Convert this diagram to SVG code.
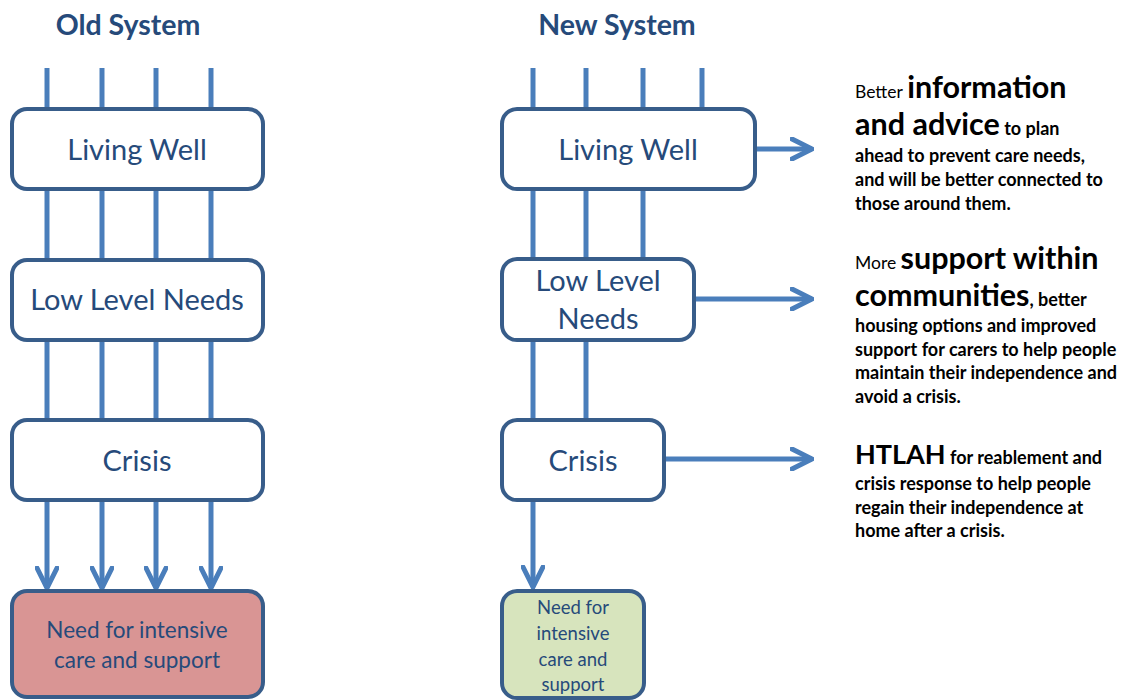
<svg xmlns="http://www.w3.org/2000/svg" width="1129" height="700" viewBox="0 0 1129 700">
<defs>
<marker id="chev" viewBox="0 0 24 24" refX="22" refY="12" markerWidth="24" markerHeight="24" markerUnits="userSpaceOnUse" orient="auto">
<path d="M2,2 L22,12 L2,22" fill="none" stroke="#4a7ebb" stroke-width="5" stroke-linecap="round" stroke-linejoin="miter"/>
</marker>
<style>
.title{font-family:Lato,"Open Sans",sans-serif;font-weight:bold;font-size:28.5px;fill:#264a7a;text-anchor:middle}
.box{fill:#fff;stroke:#385d8a;stroke-width:4}
.lbl{font-family:Lato,"Open Sans",sans-serif;font-size:29px;fill:#264a7a;text-anchor:middle}
.lbl2{font-family:Lato,"Open Sans",sans-serif;font-size:22.5px;fill:#264a7a;text-anchor:middle}
.lbl3{font-family:Lato,"Open Sans",sans-serif;font-size:18.5px;fill:#264a7a;text-anchor:middle}
.ln{stroke:#4a7ebb;stroke-width:5;fill:none}
.desc{font-family:Lato,"Open Sans",sans-serif;font-weight:bold;font-size:18px;fill:#000}
.big{font-size:30.5px}
.cap{font-size:27px}
.sm{font-weight:normal;font-size:17.5px}
</style>
</defs>
<text class="title" x="128" y="35">Old System</text>
<text class="title" x="617" y="35">New System</text>
<g id="connectors">
<line class="ln" x1="47" y1="68" x2="47" y2="108"/>
<line class="ln" x1="102" y1="68" x2="102" y2="108"/>
<line class="ln" x1="156" y1="68" x2="156" y2="108"/>
<line class="ln" x1="211" y1="68" x2="211" y2="108"/>
<line class="ln" x1="47" y1="190" x2="47" y2="259"/>
<line class="ln" x1="102" y1="190" x2="102" y2="259"/>
<line class="ln" x1="156" y1="190" x2="156" y2="259"/>
<line class="ln" x1="211" y1="190" x2="211" y2="259"/>
<line class="ln" x1="47" y1="340" x2="47" y2="419"/>
<line class="ln" x1="102" y1="340" x2="102" y2="419"/>
<line class="ln" x1="156" y1="340" x2="156" y2="419"/>
<line class="ln" x1="211" y1="340" x2="211" y2="419"/>
<line class="ln" x1="47" y1="500" x2="47" y2="588" marker-end="url(#chev)"/>
<line class="ln" x1="102" y1="500" x2="102" y2="588" marker-end="url(#chev)"/>
<line class="ln" x1="156" y1="500" x2="156" y2="588" marker-end="url(#chev)"/>
<line class="ln" x1="211" y1="500" x2="211" y2="588" marker-end="url(#chev)"/>
<line class="ln" x1="533" y1="68" x2="533" y2="108"/>
<line class="ln" x1="586" y1="68" x2="586" y2="108"/>
<line class="ln" x1="643" y1="68" x2="643" y2="108"/>
<line class="ln" x1="702" y1="68" x2="702" y2="108"/>
<line class="ln" x1="533" y1="190" x2="533" y2="258"/>
<line class="ln" x1="586" y1="190" x2="586" y2="258"/>
<line class="ln" x1="643" y1="190" x2="643" y2="258"/>
<line class="ln" x1="533" y1="340" x2="533" y2="419"/>
<line class="ln" x1="586" y1="340" x2="586" y2="419"/>
<line class="ln" x1="533" y1="500" x2="533" y2="587" marker-end="url(#chev)"/>
<line class="ln" x1="755" y1="149" x2="812" y2="149" marker-end="url(#chev)"/>
<line class="ln" x1="694" y1="299" x2="812" y2="299" marker-end="url(#chev)"/>
<line class="ln" x1="664" y1="459" x2="812" y2="459" marker-end="url(#chev)"/>
</g>
<g id="old-living-well">
<rect class="box" x="12" y="109" width="251" height="80" rx="15"/>
<text class="lbl" x="137" y="160">Living Well</text>
</g>
<g id="old-low-level">
<rect class="box" x="12" y="260" width="251" height="80" rx="15"/>
<text class="lbl" x="137" y="310">Low Level Needs</text>
</g>
<g id="old-crisis">
<rect class="box" x="12" y="420" width="251" height="80" rx="15"/>
<text class="lbl" x="137" y="471">Crisis</text>
</g>
<g id="old-need">
<rect x="12" y="591" width="251" height="106" rx="15" fill="#d99594" stroke="#385d8a" stroke-width="4"/>
<text class="lbl2" x="137" y="638">Need for intensive</text>
<text class="lbl2" x="137" y="668">care and support</text>
</g>
<g id="new-living-well">
<rect class="box" x="502" y="109" width="253" height="80" rx="15"/>
<text class="lbl" x="628" y="160">Living Well</text>
</g>
<g id="new-low-level">
<rect class="box" x="502" y="259" width="192" height="81" rx="15"/>
<text class="lbl" x="598" y="291">Low Level</text>
<text class="lbl" x="598" y="329">Needs</text>
</g>
<g id="new-crisis">
<rect class="box" x="502" y="420" width="162" height="80" rx="15"/>
<text class="lbl" x="583" y="471">Crisis</text>
</g>
<g id="new-need">
<rect x="502" y="591" width="142" height="107" rx="15" fill="#d7e4bd" stroke="#385d8a" stroke-width="4"/>
<text class="lbl3" x="573" y="614">Need for</text>
<text class="lbl3" x="573" y="640">intensive</text>
<text class="lbl3" x="573" y="666">care and</text>
<text class="lbl3" x="573" y="691">support</text>
</g>
<g id="desc-info">
<text class="desc" x="855" y="98"><tspan class="sm">Better</tspan> <tspan class="big">information</tspan></text>
<text class="desc" x="855" y="135"><tspan class="big">and advice</tspan> to plan</text>
<text class="desc" x="855" y="162">ahead to prevent care needs,</text>
<text class="desc" x="855" y="186">and will be better connected to</text>
<text class="desc" x="855" y="210">those around them.</text>
</g>
<g id="desc-support">
<text class="desc" x="855" y="269"><tspan class="sm">More</tspan> <tspan class="big">support within</tspan></text>
<text class="desc" x="855" y="306"><tspan class="big">communities</tspan>, better</text>
<text class="desc" x="855" y="332">housing options and improved</text>
<text class="desc" x="855" y="356">support for carers to help people</text>
<text class="desc" x="855" y="379">maintain their independence and</text>
<text class="desc" x="855" y="403">avoid a crisis.</text>
</g>
<g id="desc-htlah">
<text class="desc" x="855" y="464"><tspan class="cap">HTLAH</tspan> for reablement and</text>
<text class="desc" x="855" y="490">crisis response to help people</text>
<text class="desc" x="855" y="514">regain their independence at</text>
<text class="desc" x="855" y="537">home after a crisis.</text>
</g>
</svg>
